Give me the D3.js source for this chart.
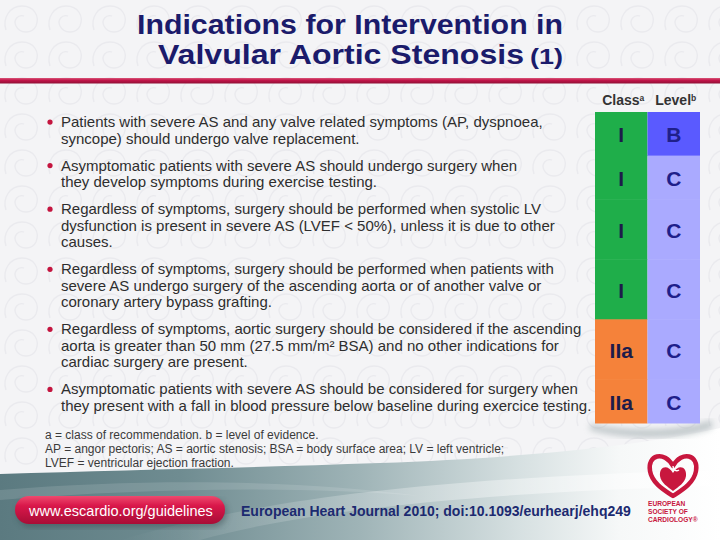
<!DOCTYPE html>
<html>
<head>
<meta charset="utf-8">
<script src="https://cdn.jsdelivr.net/npm/d3@7/dist/d3.min.js"></script>
<style>
  html, body { margin: 0; padding: 0; background: #f3f3f5; }
  svg { display: block; }
</style>
</head>
<body>
<svg id="chart" width="720" height="540"></svg>
<script>
// ---------- data ----------
const titleLines = ["Indications for Intervention in", "Valvular Aortic Stenosis"];
const titleSuffix = "(1)";
const headers = [{ label: "Class", sup: "a" }, { label: "Level", sup: "b" }];
const recommendations = [
  ["Patients with severe AS and any valve related symptoms (AP, dyspnoea,",
   "syncope) should undergo valve replacement."],
  ["Asymptomatic patients with severe AS should undergo surgery when",
   "they develop symptoms during exercise testing."],
  ["Regardless of symptoms, surgery should be performed when systolic LV",
   "dysfunction is present in severe AS (LVEF < 50%), unless it is due to other",
   "causes."],
  ["Regardless of symptoms, surgery should be performed when patients with",
   "severe AS undergo surgery of the ascending aorta or of another valve or",
   "coronary artery bypass grafting."],
  ["Regardless of symptoms, aortic surgery should be considered if the ascending",
   "aorta is greater than 50 mm (27.5 mm/m² BSA) and no other indications for",
   "cardiac surgery are present."],
  ["Asymptomatic patients with severe AS should be considered for surgery when",
   "they present with a fall in blood pressure below baseline during exercice testing."]
];
const classes = ["I", "I", "I", "I", "IIa", "IIa"];
const levels = ["B", "C", "C", "C", "C", "C"];
const footnotes = [
  "a = class of recommendation. b = level of evidence.",
  "AP = angor pectoris; AS = aortic stenosis; BSA = body surface area; LV = left ventricle;",
  "LVEF = ventricular ejection fraction."
];
const urlText = "www.escardio.org/guidelines";
const citation = "European Heart Journal 2010; doi:10.1093/eurhearj/ehq249";
const logoLines = ["EUROPEAN", "SOCIETY OF", "CARDIOLOGY®"];

// ---------- setup ----------
const svg = d3.select("#chart");
const W = 720, H = 540;
const defs = svg.append("defs");
const FONT = "'Liberation Sans', Arial, Helvetica, sans-serif";

// background swirl pattern
const pat = defs.append("pattern").attr("id", "swirl").attr("patternUnits", "userSpaceOnUse")
  .attr("width", 44).attr("height", 36);
pat.append("rect").attr("width", 44).attr("height", 36).attr("fill", "#f4f4f6");
pat.append("path").attr("d", "M6,30 C2,18 10,6 22,6 C34,6 40,16 36,26 C32,34 20,34 16,26 C13,20 18,14 24,16")
  .attr("fill", "none").attr("stroke", "#eaeaee").attr("stroke-width", 1.3);
svg.append("rect").attr("width", W).attr("height", H).attr("fill", "url(#swirl)");

// ---------- title ----------
const navy = "#1b1b6b";
const TFONT = "'Liberation Sans Narrow', 'Arial Narrow', " + FONT;
svg.append("text").attr("x", 350).attr("y", 34).attr("text-anchor", "middle")
  .attr("font-family", TFONT)
  .attr("font-weight", "bold").attr("font-size", 28.5).attr("fill", navy)
  .attr("textLength", 426).attr("lengthAdjust", "spacingAndGlyphs")
  .text(titleLines[0]);
svg.append("text").attr("x", 158).attr("y", 64)
  .attr("font-family", TFONT)
  .attr("font-weight", "bold").attr("font-size", 28.5).attr("fill", navy)
  .attr("textLength", 366).attr("lengthAdjust", "spacingAndGlyphs")
  .text(titleLines[1]);
svg.append("text").attr("x", 530).attr("y", 64)
  .attr("font-family", TFONT)
  .attr("font-weight", "bold").attr("font-size", 22).attr("fill", navy)
  .attr("textLength", 33).attr("lengthAdjust", "spacingAndGlyphs")
  .text(titleSuffix);

// red rule
const rg = defs.append("linearGradient").attr("id", "rule").attr("x1", 0).attr("x2", 0).attr("y1", 0).attr("y2", 1);
rg.append("stop").attr("offset", "0%").attr("stop-color", "#d8577a");
rg.append("stop").attr("offset", "40%").attr("stop-color", "#c4154a");
rg.append("stop").attr("offset", "100%").attr("stop-color", "#8f0f35");
svg.append("rect").attr("x", 0).attr("y", 78).attr("width", W).attr("height", 5.5).attr("fill", "url(#rule)");

// ---------- bottom band ----------
const bg = defs.append("linearGradient").attr("id", "band").attr("x1", 0).attr("x2", 1).attr("y1", 0).attr("y2", 0);
bg.append("stop").attr("offset", "0%").attr("stop-color", "#5b7a80");
bg.append("stop").attr("offset", "25%").attr("stop-color", "#6f8c91");
bg.append("stop").attr("offset", "50%").attr("stop-color", "#9fb4b7");
bg.append("stop").attr("offset", "72%").attr("stop-color", "#d6e0e1");
bg.append("stop").attr("offset", "86%").attr("stop-color", "#f6f8f8");
bg.append("stop").attr("offset", "100%").attr("stop-color", "#ffffff");
svg.append("path")
  .attr("d", "M0,474 C120,470 240,468 380,463 C520,458 640,446 720,428 V540 H0 Z")
  .attr("fill", "url(#band)");
const sg = defs.append("linearGradient").attr("id", "streak").attr("x1", 0).attr("x2", 1);
sg.append("stop").attr("offset", "0%").attr("stop-color", "#ffffff").attr("stop-opacity", 0);
sg.append("stop").attr("offset", "60%").attr("stop-color", "#ffffff").attr("stop-opacity", 0.35);
sg.append("stop").attr("offset", "100%").attr("stop-color", "#ffffff").attr("stop-opacity", 0.6);
svg.append("path")
  .attr("d", "M120,540 C260,500 420,478 720,470 V486 C470,492 300,512 200,540 Z")
  .attr("fill", "url(#streak)");
svg.append("path")
  .attr("d", "M0,490 C150,478 300,480 420,496 C300,486 150,488 0,500 Z")
  .attr("fill", "#ffffff").attr("opacity", 0.12);

// ---------- table & bullets ----------
const lineUnit = 1, gapUnit = 0.641;
const rowStarts = [];
let acc = 0;
recommendations.forEach(r => { rowStarts.push(acc); acc += r.length * lineUnit + gapUnit; });
const totalUnits = acc;
const y = d3.scaleLinear().domain([0, totalUnits]).range([112, 423]);

const colX = d3.scaleBand().domain(["class", "level"]).range([595, 700]).paddingInner(0);
const classColor = d3.scaleOrdinal().domain(["I", "IIa"]).range(["#1fae4a", "#f5823a"]);
const levelColor = d3.scaleOrdinal().domain(["B", "C"]).range(["#5a5aff", "#aaaaff"]);

defs.append("filter").attr("id", "blur").append("feGaussianBlur").attr("stdDeviation", 3);
svg.append("path").attr("d", "M590,424 C630,432 680,432 712,420 L712,428 C680,440 630,440 590,430 Z")
  .attr("fill", "#8a9a9c").attr("opacity", 0.5).attr("filter", "url(#blur)");

const rows = recommendations.map((r, i) => ({
  lines: r, cls: classes[i], lvl: levels[i],
  y0: y(rowStarts[i]), y1: y(rowStarts[i] + r.length * lineUnit + gapUnit),
  start: rowStarts[i]
}));

const rowG = svg.selectAll("g.row").data(rows).join("g").attr("class", "row");
rowG.append("rect").attr("x", colX("class")).attr("width", colX.bandwidth())
  .attr("y", d => d.y0).attr("height", d => d.y1 - d.y0 + 0.5).attr("fill", d => classColor(d.cls));
rowG.append("rect").attr("x", colX("level")).attr("width", colX.bandwidth())
  .attr("y", d => d.y0).attr("height", d => d.y1 - d.y0 + 0.5).attr("fill", d => levelColor(d.lvl));
rowG.append("text").attr("x", colX("class") + colX.bandwidth() / 2)
  .attr("y", d => (d.y0 + d.y1) / 2 + 8.5).attr("text-anchor", "middle")
  .attr("font-family", FONT).attr("font-weight", "bold").attr("font-size", 21)
  .attr("fill", "#1c1c4a").text(d => d.cls);
rowG.append("text").attr("x", colX("level") + colX.bandwidth() / 2)
  .attr("y", d => (d.y0 + d.y1) / 2 + 8.5).attr("text-anchor", "middle")
  .attr("font-family", FONT).attr("font-weight", "bold").attr("font-size", 21)
  .attr("fill", "#1f1f8a").text(d => d.lvl);

rowG.append("circle").attr("cx", 50).attr("cy", d => y(d.start + gapUnit / 2 + 0.5) - 3.5)
  .attr("r", 2.6).attr("fill", "#c4153f");
rowG.each(function (d) {
  d3.select(this).selectAll("text.line").data(d.lines).join("text").attr("class", "line")
    .attr("x", 61).attr("y", (t, i) => y(d.start + gapUnit / 2 + i + 0.5) + 1.5)
    .attr("font-family", FONT).attr("font-size", 15).attr("fill", "#2e2e2e")
    .text(t => t);
});

// headers
const hdr = svg.selectAll("text.hdr").data(headers).join("text").attr("class", "hdr")
  .attr("x", (d, i) => colX(i === 0 ? "class" : "level") + colX.bandwidth() / 2 + 2)
  .attr("y", 105).attr("text-anchor", "middle")
  .attr("font-family", FONT).attr("font-weight", "bold").attr("font-size", 14).attr("fill", "#333");
hdr.append("tspan").text(d => d.label);
hdr.append("tspan").attr("dy", -4).attr("font-size", 8.5).text(d => d.sup);

// footnotes
svg.selectAll("text.foot").data(footnotes).join("text").attr("class", "foot")
  .attr("x", 45).attr("y", (d, i) => 439 + i * 14)
  .attr("font-family", FONT).attr("font-size", 12).attr("fill", "#3a3a3a")
  .text(d => d);

// ---------- footer ----------
const pg = defs.append("linearGradient").attr("id", "pill").attr("x1", 0).attr("x2", 0).attr("y1", 0).attr("y2", 1);
pg.append("stop").attr("offset", "0%").attr("stop-color", "#ee4a6e");
pg.append("stop").attr("offset", "35%").attr("stop-color", "#d9174a");
pg.append("stop").attr("offset", "100%").attr("stop-color", "#a80d36");
svg.append("rect").attr("x", 17).attr("y", 499).attr("width", 210).attr("height", 28).attr("rx", 14)
  .attr("fill", "#2b3c40").attr("opacity", 0.4).attr("filter", "url(#blur)");
svg.append("rect").attr("x", 15).attr("y", 496).attr("width", 210).attr("height", 28).attr("rx", 14)
  .attr("fill", "url(#pill)");
svg.append("text").attr("x", 121).attr("y", 515.5).attr("text-anchor", "middle")
  .attr("font-family", FONT).attr("font-size", 14.5).attr("fill", "#ffffff")
  .text(urlText);

svg.append("text").attr("x", 241).attr("y", 516)
  .attr("font-family", FONT).attr("font-weight", "bold").attr("font-size", 14).attr("fill", "#1c2a70")
  .text(citation);

// ESC logo
const red = "#c8173e";
const logo = svg.append("g");
logo.append("path")
  .attr("d", "M673,466 C664,450 647,455 650,471 C652,483 664,490 673,496 C682,490 694,483 696,471 C699,455 682,450 673,466 Z")
  .attr("fill", "none").attr("stroke", red).attr("stroke-width", 4.5).attr("stroke-linejoin", "round");
logo.append("path")
  .attr("d", "M673,473 C668,464 659,466 660,476 C661,483 668,487 673,491 C678,487 685,483 686,476 C687,466 678,464 673,473 Z")
  .attr("fill", red);
logo.append("path").attr("d", "M673,466 C673,470 676,472 679,470")
  .attr("fill", "none").attr("stroke", "#ffffff").attr("stroke-width", 1.4);
logo.selectAll("text").data(logoLines).join("text")
  .attr("x", 648).attr("y", (d, i) => 506 + i * 8)
  .attr("font-family", FONT).attr("font-weight", "bold").attr("font-size", 6.6)
  .attr("fill", red).text(d => d);
</script>
</body>
</html>
